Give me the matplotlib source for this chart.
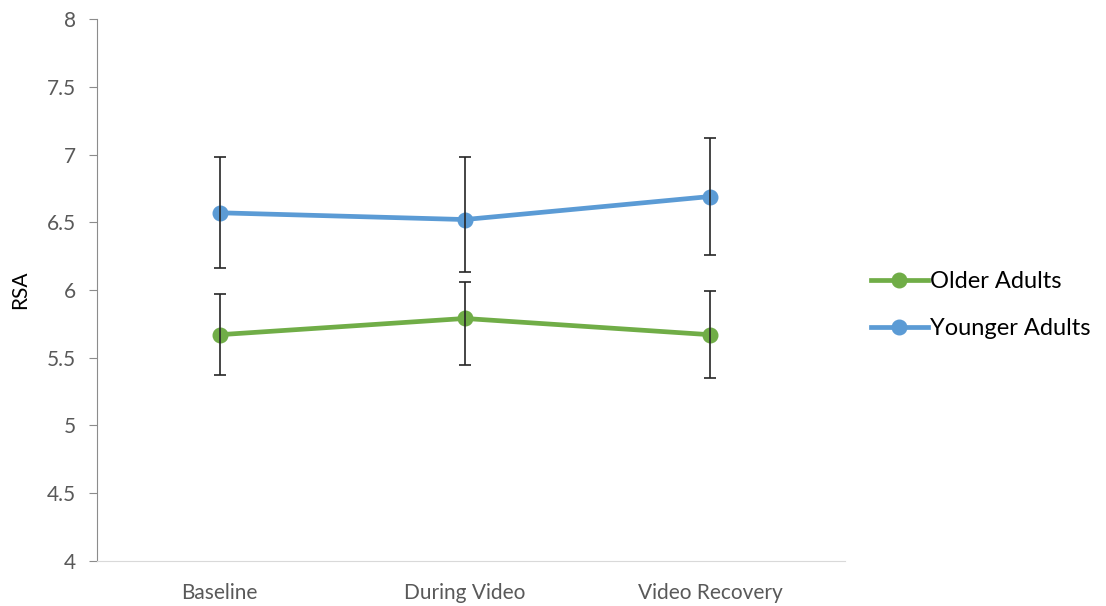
import matplotlib
matplotlib.use('Agg')
import matplotlib.pyplot as plt
import numpy as np

# Conditions on the x axis
conditions = ['Baseline', 'During Video', 'Video Recovery']

# Mean RSA per group
older_mean = [5.67, 5.79, 5.67]
younger_mean = [6.57, 6.52, 6.69]

# Error bar ends (top / bottom)
older_top = [5.97, 6.06, 5.99]
older_bottom = [5.37, 5.45, 5.35]
younger_top = [6.98, 6.98, 7.12]
younger_bottom = [6.16, 6.13, 6.26]

plt.rcParams['font.family'] = ['Lato', 'DejaVu Sans']

fig = plt.figure(figsize=(11.06, 6.06), dpi=100)
ax = fig.add_axes([0.0877, 0.0743, 0.6763, 0.8943])

x = np.arange(len(conditions))

def draw(mean, top, bottom, color, label):
    mean = np.array(mean)
    yerr = [mean - np.array(bottom), np.array(top) - mean]
    ax.plot(x, mean, color=color, lw=3.4, marker='o', markersize=10.5, label=label, zorder=3)
    ax.errorbar(x, mean, yerr=yerr, fmt='none', ecolor='#262626', elinewidth=1.2,
                capsize=4.5, capthick=1.2, zorder=4)

draw(older_mean, older_top, older_bottom, '#70ad47', 'Older Adults')
draw(younger_mean, younger_top, younger_bottom, '#5b9bd5', 'Younger Adults')

ax.set_xlim(-0.5, 2.55)
ax.set_ylim(4, 8)
ax.set_yticks(np.arange(4, 8.01, 0.5))
ax.set_yticklabels(['4', '4.5', '5', '5.5', '6', '6.5', '7', '7.5', '8'])
ax.set_xticks(x)
ax.set_xticklabels(conditions)

ax.spines['top'].set_visible(False)
ax.spines['right'].set_visible(False)
ax.spines['left'].set_color('#8c8c8c')
ax.spines['bottom'].set_color('#d9d9d9')
ax.tick_params(axis='y', colors='#8c8c8c', length=6, labelcolor='#595959', labelsize=15, pad=9)
ax.tick_params(axis='x', length=0, labelcolor='#595959', labelsize=15, pad=16)

ax.set_ylabel('RSA', fontsize=15, color='black', labelpad=12)

ax.legend(loc='center left', bbox_to_anchor=(1.0, 0.472), frameon=False, fontsize=17,
          handlelength=2.4, handletextpad=0.1, labelspacing=1.1, borderaxespad=0.7)

fig.savefig('out.png', dpi=100)
